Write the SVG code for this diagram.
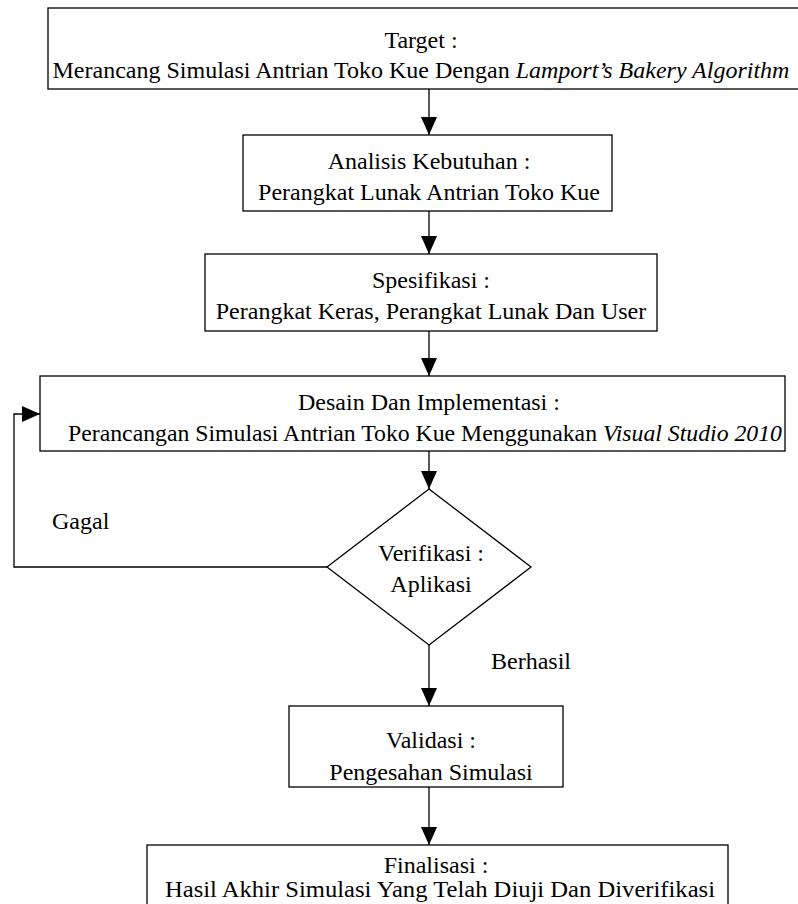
<svg xmlns="http://www.w3.org/2000/svg" width="798" height="904" viewBox="0 0 798 904">
<defs>
<marker id="ah" viewBox="0 0 18 16" refX="18" refY="8" markerWidth="18" markerHeight="16" markerUnits="userSpaceOnUse" orient="auto">
<path d="M0,0 L18,8 L0,16 Z" fill="#000"/>
</marker>
<style>
.box{fill:#fff;stroke:#000;stroke-width:1.3}
.t{font-family:"Liberation Serif","Times New Roman",serif;font-size:24px;fill:#000;text-anchor:middle}
.l{font-family:"Liberation Serif","Times New Roman",serif;font-size:24px;fill:#000}
.c{fill:none;stroke:#000;stroke-width:1.3;marker-end:url(#ah)}
.i{font-style:italic}
</style>
</defs>
<g id="connectors">
<line class="c" x1="429" y1="89" x2="429" y2="135"/>
<line class="c" x1="429" y1="211" x2="429" y2="254"/>
<line class="c" x1="429" y1="331" x2="429" y2="376"/>
<line class="c" x1="429" y1="451" x2="429" y2="489"/>
<polyline class="c" points="327,567 14,567 14,414 40,414"/>
<line class="c" x1="429" y1="645" x2="429" y2="706"/>
<line class="c" x1="429" y1="787" x2="429" y2="845"/>
</g>
<g id="n1">
<rect class="box" x="48" y="8" width="770" height="81"/>
<text class="t" x="421" y="48">Target :</text>
<text class="t" x="421" y="78">Merancang Simulasi Antrian Toko Kue Dengan <tspan class="i">Lamport’s Bakery Algorithm</tspan></text>
</g>
<g id="n2">
<rect class="box" x="243" y="135" width="369" height="76"/>
<text class="t" x="429" y="169">Analisis Kebutuhan :</text>
<text class="t" x="429" y="200">Perangkat Lunak Antrian Toko Kue</text>
</g>
<g id="n3">
<rect class="box" x="205" y="254" width="452" height="77"/>
<text class="t" x="431" y="288">Spesifikasi :</text>
<text class="t" x="431" y="319">Perangkat Keras, Perangkat Lunak Dan User</text>
</g>
<g id="n4">
<rect class="box" x="40" y="376" width="745" height="75"/>
<text class="t" x="429" y="410">Desain Dan Implementasi :</text>
<text class="t" x="425" y="441" textLength="714" lengthAdjust="spacingAndGlyphs">Perancangan Simulasi Antrian Toko Kue Menggunakan <tspan class="i">Visual Studio 2010</tspan></text>
</g>
<g id="n5">
<polygon class="box" points="429,489 531,567 429,645 327,567"/>
<text class="t" x="431" y="561">Verifikasi :</text>
<text class="t" x="431" y="592">Aplikasi</text>
</g>
<g id="n6">
<rect class="box" x="289" y="706" width="274" height="81"/>
<text class="t" x="431" y="748">Validasi :</text>
<text class="t" x="431" y="780">Pengesahan Simulasi</text>
</g>
<g id="n7">
<rect class="box" x="147" y="845" width="581" height="80"/>
<text class="t" x="436" y="873">Finalisasi :</text>
<text class="t" x="440" y="897" textLength="550" lengthAdjust="spacingAndGlyphs">Hasil Akhir Simulasi Yang Telah Diuji Dan Diverifikasi</text>
</g>
<g id="labels">
<text class="l" x="52" y="529">Gagal</text>
<text class="l" x="491" y="669">Berhasil</text>
</g>
</svg>
